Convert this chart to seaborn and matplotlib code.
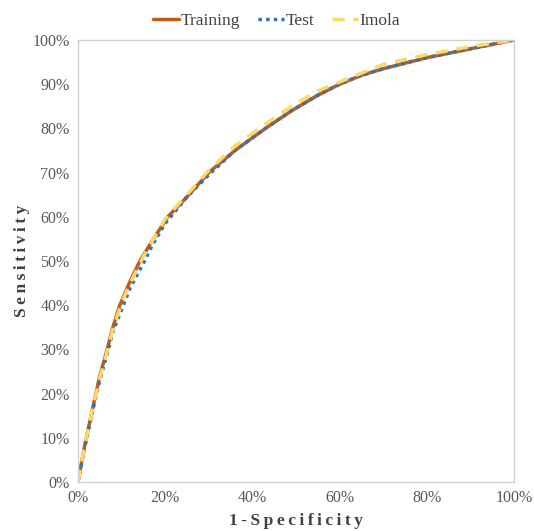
import matplotlib
matplotlib.use("Agg")
import matplotlib.pyplot as plt
import seaborn as sns
import pandas as pd
from matplotlib.ticker import PercentFormatter

sns.set_theme(style="white")
plt.rcParams['font.family'] = ['Liberation Serif', 'DejaVu Serif']

train_x = [0, 0.015, 0.03, 0.05, 0.067, 0.08, 0.096, 0.12, 0.142, 0.17, 0.206, 0.25, 0.30, 0.36, 0.43, 0.49, 0.55, 0.60, 0.65, 0.70, 0.80, 0.90, 1.0]
train_y = [0, 0.08, 0.15, 0.24, 0.30, 0.35, 0.40, 0.455, 0.50, 0.545, 0.60, 0.645, 0.70, 0.75, 0.80, 0.84, 0.875, 0.90, 0.92, 0.935, 0.96, 0.98, 1.0]

test_x = [0, 0.015, 0.03, 0.05, 0.067, 0.08, 0.10, 0.12, 0.15, 0.17, 0.20, 0.25, 0.30, 0.36, 0.43, 0.49, 0.55, 0.60, 0.65, 0.70, 0.80, 0.90, 1.0]
test_y = [0, 0.075, 0.145, 0.23, 0.29, 0.34, 0.39, 0.44, 0.495, 0.535, 0.585, 0.645, 0.695, 0.75, 0.80, 0.84, 0.875, 0.90, 0.92, 0.935, 0.96, 0.98, 1.0]

imola_x = [0, 0.015, 0.03, 0.05, 0.067, 0.08, 0.10, 0.12, 0.15, 0.17, 0.20, 0.25, 0.30, 0.36, 0.43, 0.49, 0.55, 0.60, 0.65, 0.70, 0.80, 0.90, 1.0]
imola_y = [0, 0.08, 0.15, 0.235, 0.295, 0.345, 0.405, 0.45, 0.51, 0.545, 0.595, 0.65, 0.705, 0.76, 0.81, 0.85, 0.885, 0.905, 0.925, 0.945, 0.967, 0.985, 1.0]

fig, ax = plt.subplots(figsize=(5.34, 5.31), dpi=100)
fig.subplots_adjust(left=0.146, right=0.9625, bottom=0.0923, top=0.9247)

sns.lineplot(x=train_x, y=train_y, ax=ax, color="#C55A11", lw=2.5, sort=False, estimator=None, label="Training")
sns.lineplot(x=test_x, y=test_y, ax=ax, color="#2E75B6", lw=2.5, sort=False, estimator=None, label="Test")
sns.lineplot(x=imola_x, y=imola_y, ax=ax, color="#FFD966", lw=2.5, sort=False, estimator=None, label="Imola")
ax.lines[1].set_linestyle((0, (1, 1.2)))
ax.lines[2].set_linestyle((0, (3.5, 2.5)))

ax.set_xlim(0, 1)
ax.set_ylim(0, 1)
ax.set_xticks([0, 0.2, 0.4, 0.6, 0.8, 1.0])
ax.set_yticks([i / 10 for i in range(11)])
ax.xaxis.set_major_formatter(PercentFormatter(1.0, decimals=0))
ax.yaxis.set_major_formatter(PercentFormatter(1.0, decimals=0))
ax.tick_params(axis='both', labelsize=11.5, colors="#595959", length=0, pad=6)
for s in ax.spines.values():
    s.set_color("#D0D0D0")
    s.set_linewidth(1.0)

sp = "\u2009"
ax.set_xlabel(sp.join("1-Specificity"), fontsize=12.5, fontweight='bold', color="#404040", labelpad=5)
ax.set_ylabel(sp.join("Sensitivity"), fontsize=12.5, fontweight='bold', color="#404040", labelpad=2)

leg = ax.legend(loc="lower center", bbox_to_anchor=(0.456, 1.005), ncol=3, frameon=False,
                fontsize=12.5, handlelength=1.5, handletextpad=0.1, columnspacing=1.0, borderaxespad=0.1)
for t in leg.get_texts():
    t.set_color("#404040")

fig.savefig("out.png", dpi=100)
